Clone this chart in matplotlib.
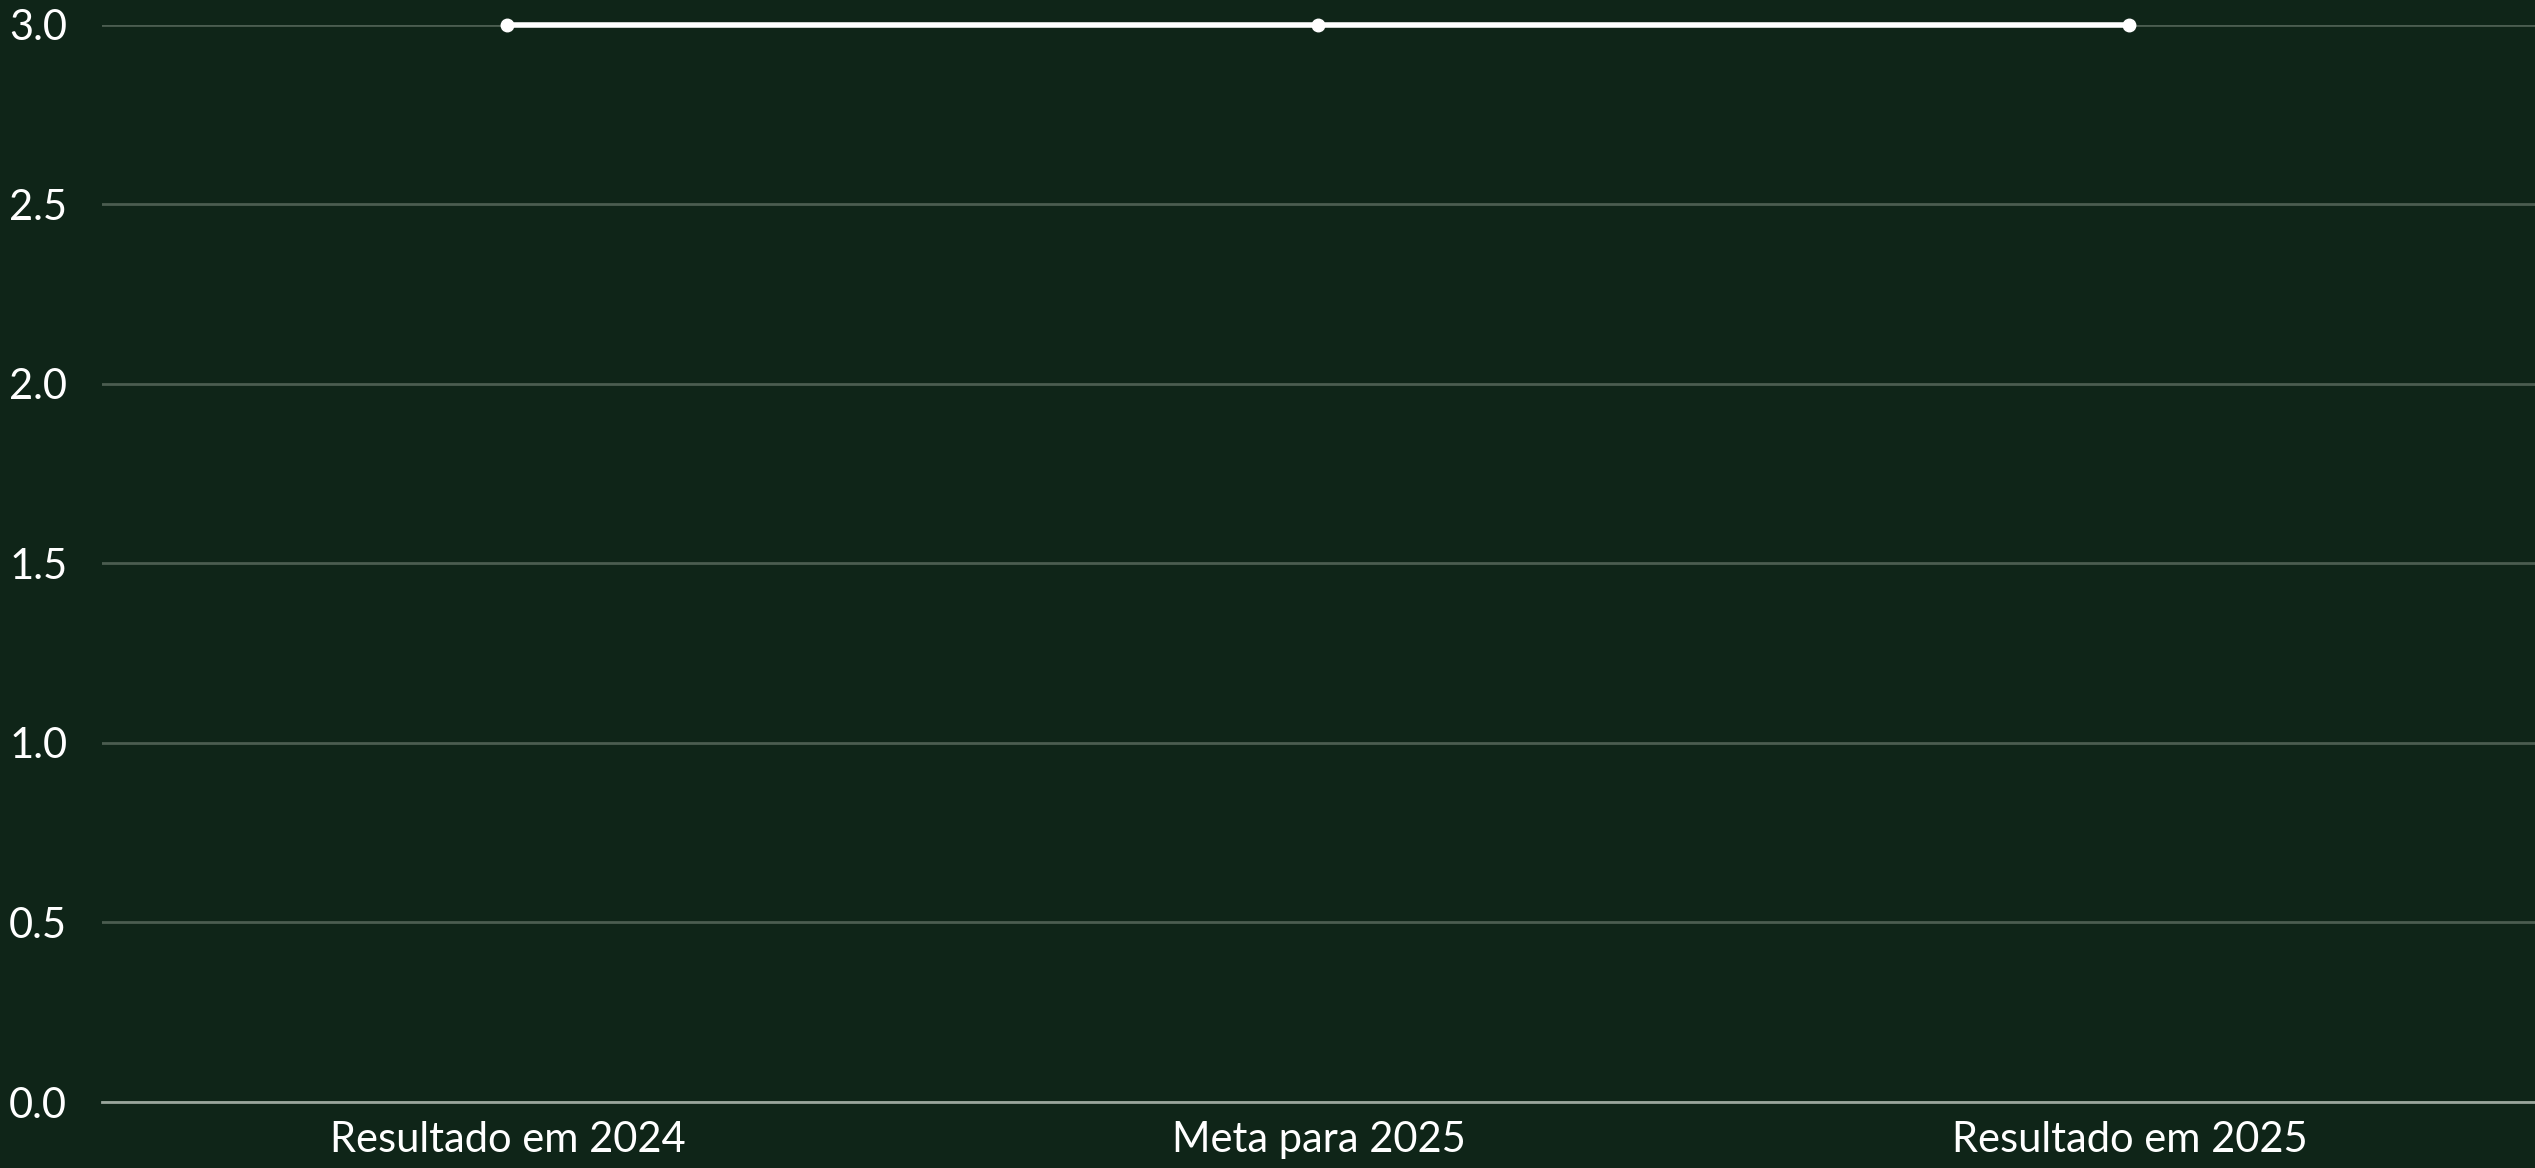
import matplotlib.pyplot as plt

# Data
categories = ["Resultado em 2024", "Meta para 2025", "Resultado em 2025"]
values = [3, 3, 3]
y_ticks = [0.0, 0.5, 1.0, 1.5, 2.0, 2.5, 3.0]

bg = "#0f2518"
plt.rcParams["font.family"] = ["Lato", "DejaVu Sans"]

fig = plt.figure(figsize=(25.35, 11.68), dpi=100, facecolor=bg)
ax = fig.add_axes([0.0402, 0.0565, 0.9598, 0.9225])
ax.set_facecolor(bg)

x = list(range(len(categories)))
ax.plot(x, values, color="white", linewidth=4, marker="o", markersize=9,
        clip_on=False, zorder=3)

ax.set_xlim(-0.5, 2.5)
ax.set_ylim(0, 3)
ax.set_xticks(x)
ax.set_xticklabels(categories)
ax.set_yticks(y_ticks)
ax.set_yticklabels([f"{v:.1f}" for v in y_ticks])

ax.grid(axis="y", color="#4b5d50", linewidth=2)
ax.set_axisbelow(True)
for s in ["top", "right", "left"]:
    ax.spines[s].set_visible(False)
ax.spines["bottom"].set_color("#9aa69c")
ax.spines["bottom"].set_linewidth(2)

ax.tick_params(axis="both", length=0, colors="white", labelsize=30)
ax.tick_params(axis="y", pad=25)
ax.tick_params(axis="x", pad=14)

plt.savefig("out.png", dpi=100, facecolor=bg)
plt.close()
